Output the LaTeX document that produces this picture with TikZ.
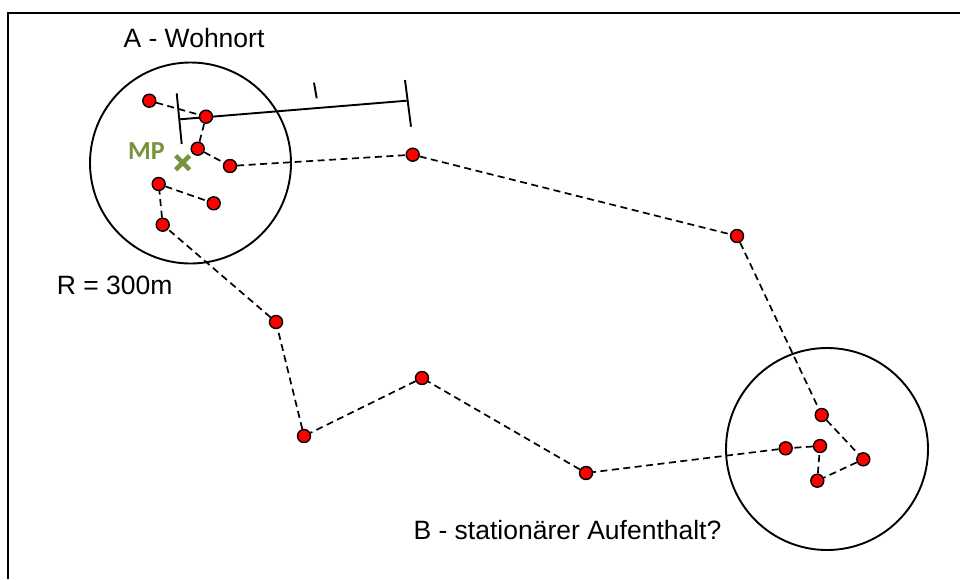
\documentclass[tikz,border=0pt]{standalone}
\usepackage{fontspec}
\usetikzlibrary{calc}
\setmainfont{Liberation Sans}
\newfontfamily\mpfont{Carlito}
\definecolor{mpgreen}{RGB}{119,147,60}
\definecolor{dotred}{RGB}{255,0,0}
\tikzset{
  pt/.style={circle,draw=black,fill=dotred,line width=1.4pt,minimum size=13pt,inner sep=0pt},
  path/.style={dashed,line width=1.7pt,dash pattern=on 7pt off 4.5pt},
  zone/.style={circle,draw=black,line width=1.9pt,inner sep=0pt},
  lbl/.style={font=\fontsize{26.5pt}{31pt}\selectfont,anchor=base west,inner sep=0pt},
  bar/.style={line width=1.9pt}
}
\begin{document}
\begin{tikzpicture}[x=1pt,y=-1pt]
\useasboundingbox (0,0) rectangle (960,579);
% frame
\draw[line width=2pt] (8,579) -- (8,13) -- (961,13);
% zones
\node[zone,minimum size=201pt] (zA) at (190.5,163) {};
\node[zone,minimum size=202pt] (zB) at (827,449) {};
% scale bar
\coordinate (s1) at (176.7,93.3);
\coordinate (s2) at (181.7,144);
\coordinate (s3) at (180,119.3);
\coordinate (s4) at (406.7,100.7);
\coordinate (s5) at (405,80);
\coordinate (s6) at (411,126.7);
\coordinate (s7) at (314,82.7);
\coordinate (s8) at (316.7,98.3);
\draw[bar] (s1) -- (s2);
\draw[bar] (s3) -- (s4);
\draw[bar] (s5) -- (s6);
\draw[bar] (s7) -- (s8);
% points
\node[pt] (p1) at (149.3,100.7) {};
\node[pt] (p2) at (206,116.7) {};
\node[pt] (p3) at (197.7,148.7) {};
\node[pt] (p4) at (230,166) {};
\node[pt] (p5) at (158.7,184) {};
\node[pt] (p6) at (213.7,203.3) {};
\node[pt] (p7) at (162.7,224.7) {};
\node[pt] (p8) at (412.7,154.7) {};
\node[pt] (p9) at (276,322) {};
\node[pt] (p10) at (737,236) {};
\node[pt] (p11) at (821.7,415) {};
\node[pt] (p12) at (863.3,459.3) {};
\node[pt] (p13) at (817.3,480.7) {};
\node[pt] (p14) at (820,446) {};
\node[pt] (p15) at (785.7,448.3) {};
\node[pt] (p16) at (586,473) {};
\node[pt] (p17) at (422,378) {};
\node[pt] (p18) at (304,436) {};
% connectors
\draw[path] (p1) -- (p2);
\draw[path] (p2) -- (p3);
\draw[path] (p3) -- (p4);
\draw[path] (p4) -- (p8);
\draw[path] (p8) -- (p10);
\draw[path] (p10) -- (p11);
\draw[path] (p11) -- (p12);
\draw[path] (p12) -- (p13);
\draw[path] (p13) -- (p14);
\draw[path] (p14) -- (p15);
\draw[path] (p15) -- (p16);
\draw[path] (p16) -- (p17);
\draw[path] (p17) -- (p18);
\draw[path] (p18) -- (p9);
\draw[path] (p9) -- (p7);
\draw[path] (p7) -- (p5);
\draw[path] (p5) -- (p6);
% MP
\coordinate (mp) at (182.7,162.7);
\draw[mpgreen,line width=4.5pt] ($(mp)+(-7,-7)$) -- ($(mp)+(7,7)$) ($(mp)+(-7,7)$) -- ($(mp)+(7,-7)$);
\node[font=\mpfont\bfseries\fontsize{26pt}{30pt}\selectfont,text=mpgreen,inner sep=0pt,anchor=base west] (mpt) at (128,159.5) {MP};
% labels
\node[lbl] (la) at (123.3,47.3) {A - Wohnort};
\node[lbl] (lr) at (56.7,294.3) {R = 300m};
\node[lbl] (lb) at (413.3,539.3) {B - stationärer Aufenthalt?};
\end{tikzpicture}
\end{document}
